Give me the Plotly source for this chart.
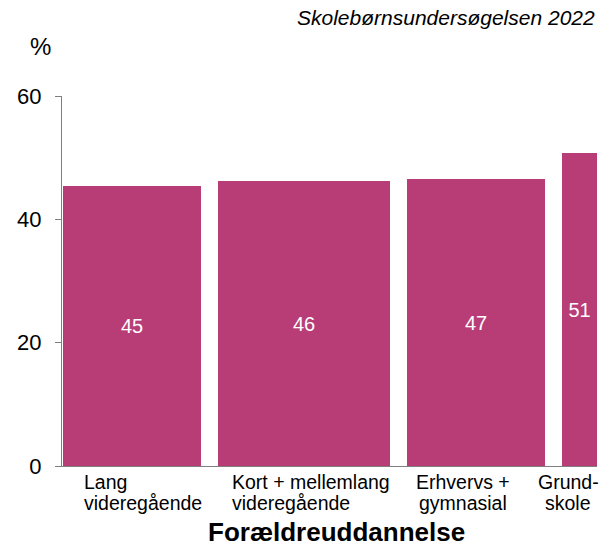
import plotly.graph_objects as go

categories = ["Lang<br>videregående", "Kort + mellemlang<br>videregående", "Erhvervs +<br>gymnasial", "Grund-<br>skole"]
values = [45.4, 46.2, 46.6, 50.8]
value_labels = ["45", "46", "47", "51"]
bar_widths = [25.8, 32.15, 25.8, 6.54]
label_align = ["left", "left", "center", "center"]
y_ticks = [0, 20, 40, 60]

GAP = 3.18
START = 0.19
COLOR = "#B83D77"
FONT = "Liberation Sans, Arial, sans-serif"

lefts = []
pos = START
for w in bar_widths:
    lefts.append(pos)
    pos += w + GAP
centers = [l + w / 2 for l, w in zip(lefts, bar_widths)]

fig = go.Figure(go.Bar(
    x=lefts, y=values, width=bar_widths, offset=0,
    marker=dict(color=COLOR, line=dict(width=0)),
    text=value_labels, textposition="inside", insidetextanchor="middle",
    textfont=dict(color="white", size=20, family=FONT),
    textangle=0, hoverinfo="skip",
))

# label placement (visual layout tweaks)
label_shift = [1.6, -3.3, -2.5, -2.1]
px_per_unit = (597 - 62) / 100.0
left_edges = [(81.5 - 62) / px_per_unit, (230 - 62) / px_per_unit, None, None]

annotations = []
for c, s, t, a, le in zip(centers, label_shift, categories, label_align, left_edges):
    for i, ln in enumerate(t.split("<br>")):
        if a == "left":
            ax, anchor = le, "left"
        else:
            ax, anchor = c + s, "center"
        annotations.append(dict(
            x=ax, y=0, xref="x", yref="y", yshift=-16 - 21 * i,
            text=ln, showarrow=False, xanchor=anchor, yanchor="middle",
            font=dict(size=19.5, family=FONT, color="black"),
        ))

annotations.append(dict(
    x=(336 - 62) / (597 - 62), y=0, xref="paper", yref="paper",
    text="<b>Forældreuddannelse</b>", showarrow=False,
    yanchor="middle", yshift=-66,
    font=dict(size=26, family=FONT, color="black"),
))
annotations.append(dict(
    x=1.0, y=1.0, xref="paper", yref="paper", text="<i>Skolebørnsundersøgelsen 2022</i>",
    showarrow=False, xanchor="right", yanchor="middle", yshift=79,
    font=dict(size=21, family=FONT, color="black"),
))
annotations.append(dict(
    x=0, y=1.0, xref="paper", yref="paper", text="%",
    showarrow=False, xanchor="center", yanchor="middle", xshift=-22, yshift=50,
    font=dict(size=24, family=FONT, color="black"),
))

fig.update_layout(
    width=612, height=547,
    margin=dict(l=62, r=15, t=96, b=81),
    plot_bgcolor="white", paper_bgcolor="white",
    showlegend=False,
    bargap=0,
    annotations=annotations,
    xaxis=dict(range=[0, 100], showticklabels=False, ticks="", showgrid=False,
               zeroline=False, showline=True, linecolor="#7f7f7f", linewidth=1),
    yaxis=dict(range=[0, 60], tickvals=y_ticks, ticks="outside", ticklen=6,
               tickcolor="#7f7f7f", showgrid=False, zeroline=False, showline=True,
               linecolor="#7f7f7f", linewidth=1,
               tickfont=dict(size=22, family=FONT, color="black"),
               ticklabelstandoff=9),
)

fig.write_html("out.html", config={"displayModeBar": False})

# remove the default page margin so the figure sits at the window origin
with open("out.html", "r", encoding="utf-8") as f:
    html = f.read()
html = html.replace("<head>", "<head><style>html,body{margin:0;padding:0;overflow:hidden;}</style>", 1)
with open("out.html", "w", encoding="utf-8") as f:
    f.write(html)
